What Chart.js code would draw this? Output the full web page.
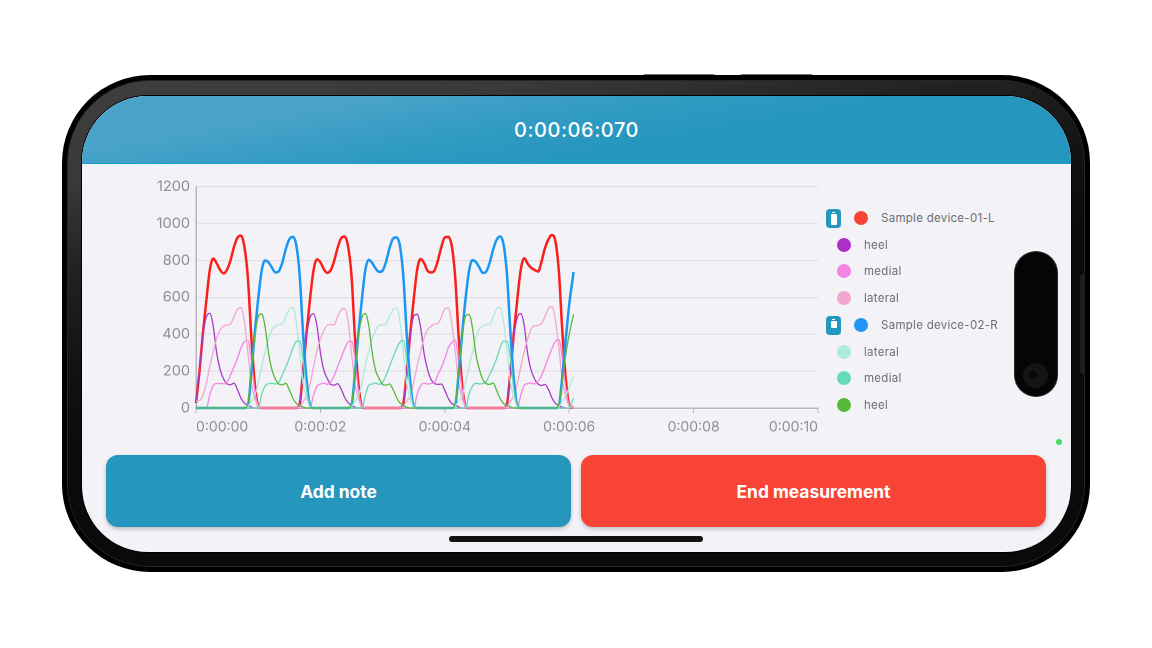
<!DOCTYPE html>
<html><head><meta charset="utf-8">
<script src="https://cdn.jsdelivr.net/npm/chart.js@4/dist/chart.umd.js"></script>
<style>
html,body{margin:0;padding:0;background:#fff;width:1152px;height:648px;overflow:hidden;font-family:Inter,"Noto Sans",sans-serif}
.abs{position:absolute}
#phone{left:62px;top:75px;width:1028px;height:497px;border-radius:88px;background:#000}
#bezel{left:5px;top:5px;width:1018px;height:487px;box-sizing:border-box;border-radius:83px;border:1px solid #262626;background:linear-gradient(168deg,#3e3e3e 0%,#3a3a3a 14%,#222 27%,#111 42%,#0a0a0a 55%,#0a0a0a 100%)}
#screen{left:81.5px;top:96px;width:989.5px;height:456px;border-radius:66px;background:#f2f2f7;overflow:hidden;box-shadow:0 0 0 1px #000}
#head{left:0;top:0;width:990px;height:68px;box-sizing:border-box;border-bottom:1px solid #1a9fcb;background:linear-gradient(170deg,#4aa3c9 0%,#4aa3c9 22%,#2f9ac2 45%,#2596be 62%);color:#fff;font-size:20px;font-weight:500;line-height:68px;text-align:center;letter-spacing:.55px}
#chartBox{left:100px;top:172px;width:730px;height:274px}
.btn{top:455px;width:465px;height:72px;border-radius:12px;color:#fff;font-weight:700;font-size:17.4px;line-height:73px;text-align:center;box-shadow:0 2px 4px rgba(0,0,0,.22)}
#home{left:449px;top:536px;width:254px;height:6px;border-radius:3px;background:#111}
#pill{left:1015px;top:252px;width:42px;height:144px;border-radius:21px;background:#050505;box-shadow:0 0 0 1px #2b2b2b}
#cam{left:1023px;top:363px;width:25px;height:25px;border-radius:50%;background:#141414}
#lens{left:1027px;top:369px;width:12px;height:12px;border-radius:50%;background:#0a0a0a;box-shadow:inset 0 0 2px #2e3a44}
#gdot{left:1055.5px;top:438.5px;width:6px;height:6px;border-radius:50%;background:#4cd964}
#side{left:1080px;top:274px;width:5px;height:100px;border-radius:3px 0 0 3px;background:#1e1e1e}
.leg{position:absolute;font-size:11.5px;color:#6e6e73;line-height:16px;white-space:nowrap;letter-spacing:.28px}
.dot{position:absolute;width:14px;height:14px;border-radius:50%}
.bat{position:absolute;left:826px;width:15px;height:19px;border-radius:4px;background:#2596be}
.bat i{position:absolute;left:4.5px;width:6px;background:#fff;border-radius:1px}
.bat b{position:absolute;left:6px;top:3px;width:3px;height:1.5px;background:#fff}
.notch{height:1.5px;top:74px;background:#777;border-radius:2px 2px 0 0}
</style></head><body>
<div class="abs notch" style="left:643px;width:72px"></div>
<div class="abs notch" style="left:740px;width:73px"></div>
<div class="abs" id="phone"><div class="abs" id="bezel"></div></div>
<div class="abs" id="side"></div>
<div class="abs" id="screen"><div class="abs" id="head">0:00:06:070</div></div>
<div class="abs" id="chartBox"><canvas id="c" width="730" height="274"></canvas></div>
<div id="legend"></div>
<div class="abs btn" style="left:106px;background:#2596be">Add note</div>
<div class="abs btn" style="left:581px;background:#f84437">End measurement</div>
<div class="abs" id="home"></div>
<div class="abs" id="pill"></div><div class="abs" id="cam"></div><div class="abs" id="lens"></div>
<div class="abs" id="gdot"></div>
<script>
const timeSeconds=[0,.056,.111,.167,.222,.278,.333,.389,.444,.5,.556,.611,.667,.722,.778,.833,.889,.944,1,1.056,
1.111,1.167,1.222,1.278,1.333,1.389,1.444,1.5,1.556,1.611,1.667,1.722,1.778,1.833,1.889,1.944,2,2.056,2.111,2.167,
2.222,2.278,2.333,2.389,2.444,2.5,2.556,2.611,2.667,2.722,2.778,2.833,2.889,2.944,3,3.056,3.111,3.167,3.222,3.278,
3.333,3.389,3.444,3.5,3.556,3.611,3.667,3.722,3.778,3.833,3.889,3.944,4,4.056,4.111,4.167,4.222,4.278,4.333,4.389,
4.444,4.5,4.556,4.611,4.667,4.722,4.778,4.833,4.889,4.944,5,5.056,5.111,5.167,5.222,5.278,5.333,5.389,5.444,5.5,
5.556,5.611,5.667,5.722,5.778,5.833,5.889,5.944,6,6.07];
const leftTotal=[27,198,405,585,748,811,784,748,730,751,802,874,924,935,874,712,387,135,13,0,0,0,0,0,0,0,0,0,0,0,
22,205,410,590,745,806,790,752,733,748,798,870,920,930,878,718,380,130,10,0,0,0,0,0,0,0,0,0,0,0,
25,200,402,588,750,808,786,745,735,745,800,872,925,928,880,710,390,128,12,0,0,0,0,0,0,0,0,0,0,0,
24,203,408,594,752,812,782,760,748,740,795,868,915,938,905,745,420,160,18,0];
const leftHeel=[27,207,387,495,513,441,297,207,157,131,126,135,99,54,27,16,5,0,0,0,0,0,0,0,0,0,0,0,0,0,
22,210,392,490,510,448,300,205,160,128,124,132,102,58,30,14,4,0,0,0,0,0,0,0,0,0,0,0,0,0,
25,205,385,498,508,438,295,210,155,133,128,130,96,52,25,15,6,0,0,0,0,0,0,0,0,0,0,0,0,0,
24,208,390,492,512,445,292,204,158,130,122,128,100,55,26,12,4,0,0,0];
const leftMedial=[0,0,0,0,72,122,133,133,131,140,180,222,270,324,360,366,261,99,13,0,0,0,0,0,0,0,0,0,0,0,
0,0,0,2,68,118,130,135,128,142,176,226,272,320,358,362,268,95,10,0,0,0,0,0,0,0,0,0,0,0,
0,0,0,0,75,120,135,130,133,138,182,220,268,326,355,368,255,102,12,0,0,0,0,0,0,0,0,0,0,0,
0,0,0,0,70,124,132,136,130,144,178,224,275,322,362,370,270,110,15,0];
const leftLateral=[36,40,67,135,225,306,378,423,445,450,456,495,535,544,468,306,135,54,9,0,0,0,0,0,0,0,0,0,0,0,
8,34,68,130,222,310,375,420,448,452,452,498,532,540,472,300,130,50,8,0,0,0,0,0,0,0,0,0,0,0,
10,38,65,138,228,304,380,425,442,455,458,492,538,542,462,310,140,52,10,0,0,0,0,0,0,0,0,0,0,0,
9,36,70,132,224,308,376,428,446,448,460,496,540,548,480,330,150,60,12,0];
const rightTotal=[0,0,0,0,0,0,0,0,0,0,0,0,0,0,0,
12,190,400,592,745,800,790,760,735,742,790,862,915,928,885,720,400,150,15,0,0,0,0,0,0,0,0,0,0,0,
15,194,404,588,748,804,786,756,738,745,794,866,918,925,880,715,395,145,12,0,0,0,0,0,0,0,0,0,0,0,
14,188,398,590,742,802,792,762,732,740,788,860,912,930,888,722,405,152,14,0,0,0,0,0,0,0,0,0,0,0,
12,170,370,560,737];
const rightLateral=[0,0,0,0,0,0,0,0,0,0,0,0,0,0,0,
8,36,66,135,225,305,380,425,445,452,455,495,535,545,470,305,135,52,9,0,0,0,0,0,0,0,0,0,0,0,
9,34,68,132,228,308,376,422,448,450,458,498,532,542,474,300,130,50,8,0,0,0,0,0,0,0,0,0,0,0,
10,38,64,138,222,302,382,428,442,454,452,492,538,546,466,310,140,55,10,0,0,0,0,0,0,0,0,0,0,0,
8,36,66,110,171];
const rightMedial=[0,0,0,0,0,0,0,0,0,0,0,0,0,0,0,
0,0,0,0,72,120,132,134,130,142,180,222,270,324,360,364,262,98,12,0,0,0,0,0,0,0,0,0,0,0,
0,0,0,0,68,124,130,136,128,140,176,226,274,320,356,366,258,102,10,0,0,0,0,0,0,0,0,0,0,0,
0,0,0,0,74,118,134,131,132,144,182,220,268,326,362,362,266,96,13,0,0,0,0,0,0,0,0,0,0,0,
0,0,0,0,54];
const rightHeel=[0,0,0,0,0,0,0,0,0,0,0,0,0,0,0,
25,205,385,495,510,440,296,206,156,130,126,134,98,54,26,15,5,0,0,0,0,0,0,0,0,0,0,0,0,0,
22,208,390,490,512,446,300,202,160,128,124,130,102,58,28,13,4,0,0,0,0,0,0,0,0,0,0,0,0,0,
26,202,382,498,507,436,292,210,154,132,128,136,96,52,24,16,6,0,0,0,0,0,0,0,0,0,0,0,0,0,
20,150,290,400,508];
const yTicks=[0,200,400,600,800,1000,1200];
const xTickLabels=["0:00:00","0:00:02","0:00:04","0:00:06","0:00:08","0:00:10"];
const legendNames=["Sample device-01-L","heel","medial","lateral","Sample device-02-R","lateral","medial","heel"];
const legendColors=["#f94336","#ae2fc6","#f584e0","#f2a6cf","#2196f3","#aeead9","#66dab8","#56b93a"];
const lineColors=["#fb1f1a","#a93cc7","#f584e0","#f2a6cf","#1b96f3","#aeead9","#66dab8","#56b93a"];
const seriesValues=[leftTotal,leftHeel,leftMedial,leftLateral,rightTotal,rightLateral,rightMedial,rightHeel];
const legendRows=[218,245,271,298,325,352,378,405];

const datasets=seriesValues.map((v,i)=>({
  label:legendNames[i],
  data:v.map((y,k)=>({x:timeSeconds[k],y})),
  borderColor:lineColors[i],backgroundColor:lineColors[i],
  borderWidth:(i===0||i===4)?2.5:1.3,
  pointRadius:0,cubicInterpolationMode:'monotone',clip:false,
  order:8-i
}));
new Chart(document.getElementById('c'),{
  type:'line',data:{datasets},
  options:{responsive:false,animation:false,devicePixelRatio:2,
    layout:{padding:{top:6,right:12,left:0,bottom:0}},
    plugins:{legend:{display:false},title:{display:false},tooltip:{enabled:false}},
    scales:{
      x:{type:'linear',min:0,max:10,
        afterBuildTicks(s){s.ticks=[0,2,4,6,8,10].map(value=>({value}));},
        afterFit(s){s.height=38;},
        grid:{drawOnChartArea:false,drawTicks:true,tickLength:5,color:'#b8b8bc',tickColor:'#b8b8bc'},
        border:{color:'#b8b8bc',width:1.5},
        ticks:{align:'inner',maxRotation:0,autoSkip:false,padding:6,color:'#8e8e93',font:{family:'Inter',size:14},
          callback:(v,i)=>xTickLabels[i]}},
      y:{min:0,max:1200,
        afterBuildTicks(s){s.ticks=yTicks.map(value=>({value}));},
        afterFit(s){s.width=96;},
        grid:{color:'#e2e2e6',lineWidth:1.2,drawTicks:false},
        border:{color:'#b8b8bc',width:1.5},
        ticks:{padding:6,color:'#8e8e93',font:{family:'Inter',size:14.5},callback:v=>String(v)}}
    }
  }
});
const L=document.getElementById('legend');
legendNames.forEach((n,i)=>{
  const y=legendRows[i],head=(i===0||i===4);
  const d=document.createElement('div');d.className='dot';
  d.style.left=(head?854:837)+'px';d.style.top=(y-7)+'px';d.style.background=legendColors[i];L.appendChild(d);
  const t=document.createElement('div');t.className='leg';
  t.style.left=(head?881:864)+'px';t.style.top=(y-8)+'px';t.textContent=n;L.appendChild(t);
  if(head){
    const b=document.createElement('div');b.className='bat';b.style.top=(y-9.5)+'px';
    b.innerHTML='<b></b><i style="top:5px;height:'+(i===0?11:7)+'px"></i>';
    L.appendChild(b);
  }
});
</script>
</body></html>
